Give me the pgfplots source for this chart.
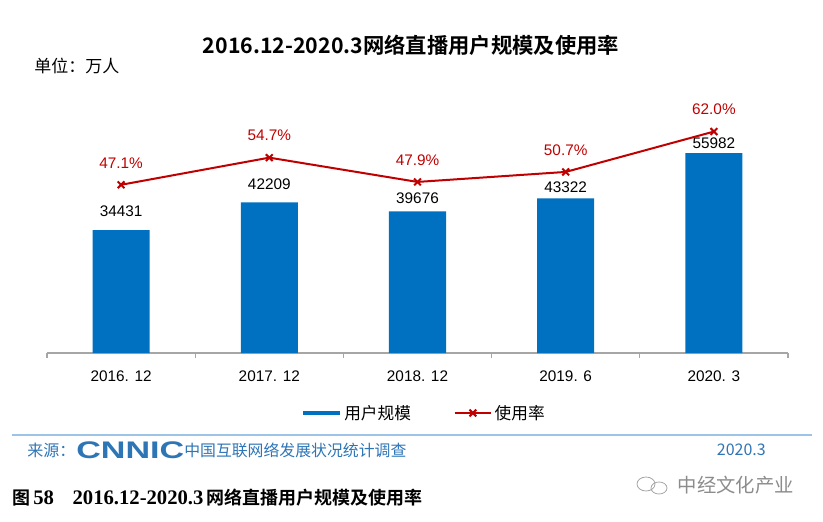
\documentclass[border=0pt]{standalone}
\usepackage{fontspec}
\setmainfont{Liberation Sans}
\newfontfamily\cjk{Noto Sans CJK SC}[BoldFont={Noto Sans CJK SC Bold}]
\newfontfamily\tnr{Liberation Serif}
\usepackage{pgfplots}
\pgfplotsset{compat=1.18}
\usepackage{pgfplotstable}
\definecolor{barblue}{HTML}{0070C0}
\definecolor{linered}{HTML}{C00000}
\definecolor{srcblue}{HTML}{2E75B6}
\definecolor{sepblue}{HTML}{9DC3E6}

\pgfplotstableread{
x y dy
0 34431 14.25
1 42209 13.5
2 39676 9.5
3 43322 8.25
4 55982 7.5
}\usersdata
\pgfplotstableread{
x y
0 47.1
1 54.7
2 47.9
3 50.7
4 62.0
}\ratedata

\begin{document}
\begin{tikzpicture}[x=0.75pt,y=0.75pt]
\useasboundingbox (0,0) rectangle (823,521);

\begin{axis}[
  at={(35.25pt,126pt)}, anchor=south west,
  scale only axis, width=555.75pt, height=187.5pt,
  xmin=-0.5, xmax=4.5, ymin=0, ymax=70000,
  axis y line=none, axis x line*=bottom,
  x axis line style={-, draw=black!35, line width=0.8pt},
  xtick={0,1,2,3,4},
  xticklabels={2016. 12, 2017. 12, 2018. 12, 2019. 6, 2020. 3},
  major tick length=0pt,
  minor xtick={-0.5,0.5,1.5,2.5,3.5,4.5},
  minor tick length=3.75pt,
  tick align=outside,
  minor tick style={draw=black!35, line width=0.8pt},
  tick label style={font=\fontsize{11.5}{13}\selectfont, text=black},
  xticklabel style={yshift=-10pt},
  /pgf/number format/assume math mode=true,
  /pgf/number format/1000 sep={},
  clip=false,
]
\addplot[ybar, bar width=0.385, fill=barblue, draw=none,
  visualization depends on={\thisrow{dy} \as \dy},
  nodes near coords,
  every node near coord/.append style={anchor=center, yshift=\dy pt, text=black, font=\fontsize{11.5}{13}\selectfont},
] table[x=x,y=y] {\usersdata};
\end{axis}

\begin{axis}[
  at={(35.25pt,126pt)}, anchor=south west,
  scale only axis, width=555.75pt, height=187.5pt,
  xmin=-0.5, xmax=4.5, ymin=0, ymax=70,
  hide axis, clip=false,
  /pgf/number format/assume math mode=true,
  legend columns=2,
  legend style={at={(0.509,-0.24)}, anchor=center, draw=none, fill=none,
    font=\cjk\fontsize{12.5}{14}\selectfont,
    /tikz/every even column/.append style={column sep=30pt}},
  legend image code/.code={\draw[mark repeat=2,mark phase=2,#1] plot coordinates {(0cm,0cm)(0.48cm,0cm)(0.96cm,0cm)};},
]
\addlegendimage{barblue, line width=3.2pt}
\addlegendentry{用户规模}
\addplot[linered, line width=1.5pt, mark=x, mark size=3.6pt, mark options={line width=1.5pt},
  nodes near coords={\pgfmathprintnumber[fixed,fixed zerofill,precision=1]{\pgfplotspointmeta}\%},
  every node near coord/.append style={anchor=center, yshift=16.5pt, text=linered, font=\fontsize{11.5}{13}\selectfont},
] table[x=x,y=y] {\ratedata};
\addlegendentry{使用率}
\end{axis}

\node[font=\cjk\bfseries\fontsize{16}{18}\selectfont] at (411,476) {2016.12-2020.3网络直播用户规模及使用率};
\node[anchor=west, inner sep=0pt, font=\cjk\fontsize{12.75}{15}\selectfont] at (34,455) {单位：万人};
\draw[sepblue, line width=1.5pt] (12,86) -- (812,86);
\node[anchor=west, inner sep=0pt, text=srcblue, font=\cjk\fontsize{12}{14}\selectfont] at (27,71) {来源：};
\node[anchor=west, inner sep=0pt, text=srcblue, font=\bfseries\fontsize{18}{18}\selectfont, xscale=1.42, transform shape] at (76,71) {CNNIC};
\node[anchor=west, inner sep=0pt, text=srcblue, font=\cjk\fontsize{11.9}{14}\selectfont] at (184,71) {中国互联网络发展状况统计调查};
\node[anchor=east, inner sep=0pt, text=srcblue, font=\cjk\fontsize{12}{14}\selectfont] at (766,71) {2020.3};
\draw[black!35, line width=0.6pt] (646,37) ellipse (9 and 7);
\draw[black!35, line width=0.6pt] (659,33) ellipse (8 and 6);
\node[anchor=east, inner sep=0pt, text=black!45, font=\cjk\fontsize{14.5}{17}\selectfont] at (794,36) {中经文化产业};
\node[anchor=west, inner sep=0pt, font=\fontsize{13.5}{16}\selectfont] at (12,23) {{\cjk\bfseries 图}\,{\tnr\bfseries\fontsize{15.5}{16}\selectfont 58}\hspace{14pt}{\tnr\bfseries\fontsize{15.5}{16}\selectfont 2016.12-2020.3}\,{\cjk\bfseries 网络直播用户规模及使用率}};
\end{tikzpicture}
\end{document}
